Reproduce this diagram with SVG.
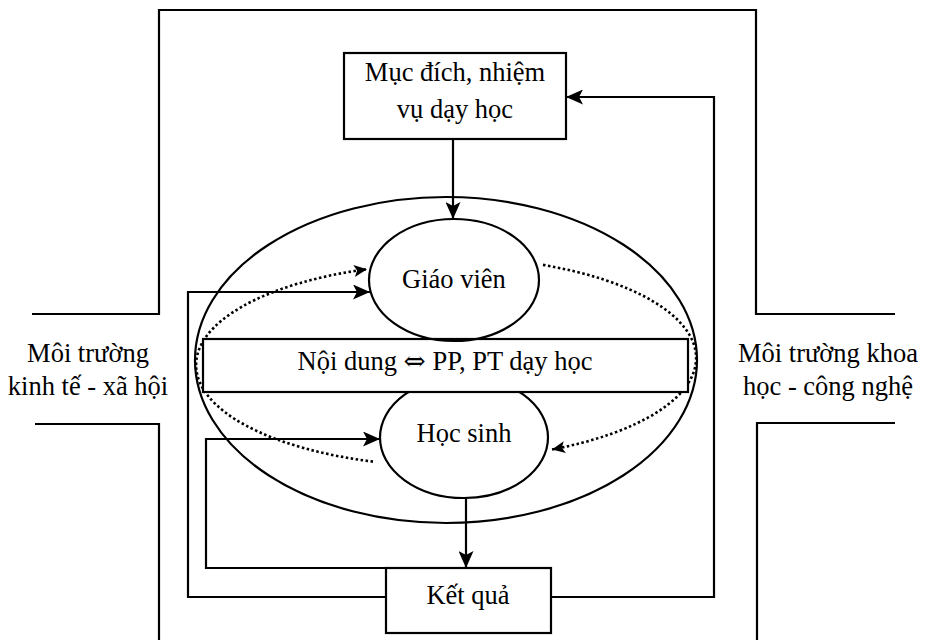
<svg xmlns="http://www.w3.org/2000/svg" width="927" height="640" viewBox="0 0 927 640" font-family="'Liberation Serif', 'DejaVu Serif', serif">
<style>
  .ln{fill:none;stroke:#000;stroke-width:2.2}
  .shape{fill:#fff;stroke:#000;stroke-width:2.2}
  .dot{fill:none;stroke:#000;stroke-width:2.6;stroke-dasharray:2.5 2.5}
  .t{font-family:'Liberation Serif','DejaVu Serif',serif;font-size:26.5px;fill:#000;text-anchor:middle}
  .sym{font-family:'DejaVu Serif','DejaVu Sans',serif}
</style>
<defs>
  <marker id="arr" markerUnits="userSpaceOnUse" markerWidth="18" markerHeight="15" refX="17" refY="7.5" orient="auto">
    <path d="M0,0 L17,7.5 L0,15 L4,7.5 z" fill="#000"/>
  </marker>
  <marker id="darr" markerUnits="userSpaceOnUse" markerWidth="14" markerHeight="12" refX="13" refY="6" orient="auto">
    <path d="M0,0 L13,6 L0,12 L3,6 z" fill="#000"/>
  </marker>
</defs>

<g id="frame">
  <path class="ln" d="M32,314 H159 V10 H756 V314 H895"/>
  <path class="ln" d="M35,424 H159 V640"/>
  <path class="ln" d="M895,423 H757 V640"/>
</g>

<g id="env-left">
  <text class="t" x="88" y="362">Môi trường</text>
  <text class="t" x="88" y="395">kinh tế - xã hội</text>
</g>
<g id="env-right">
  <text class="t" x="828" y="362">Môi trường khoa</text>
  <text class="t" x="828" y="395">học - công nghệ</text>
</g>

<g id="system">
  <ellipse class="ln" cx="446" cy="360" rx="251" ry="163"/>
</g>

<g id="connectors">
  <path class="dot" d="M373,461.6 A250,101 0 0 1 367,269.2" marker-end="url(#darr)"/>
  <path class="dot" d="M543,264.9 A250,101 0 0 1 552,449.5" marker-end="url(#darr)"/>
  <path class="ln" d="M453,139 V219" marker-end="url(#arr)"/>
  <path class="ln" d="M551,597 H714 V97 H566" marker-end="url(#arr)"/>
  <path class="ln" d="M386,597 H188 V292 H370" marker-end="url(#arr)"/>
  <path class="ln" d="M386,568 H206 V439 H380" marker-end="url(#arr)"/>
  <path class="ln" d="M466,498 V568" marker-end="url(#arr)"/>
</g>

<g id="hoc-sinh">
  <ellipse class="ln" cx="464" cy="437.5" rx="84" ry="60.5"/>
  <text class="t" x="464" y="442">Học sinh</text>
</g>

<g id="noi-dung">
  <rect class="shape" x="203" y="339" width="485" height="53"/>
  <text class="t" x="445" y="370">Nội dung <tspan class="sym">⇔</tspan> PP, PT dạy học</text>
</g>

<g id="giao-vien">
  <ellipse class="ln" cx="454" cy="280" rx="85" ry="61"/>
  <text class="t" x="454" y="288">Giáo viên</text>
</g>

<g id="muc-dich">
  <rect class="shape" x="344" y="53" width="222" height="86"/>
  <text class="t" x="455" y="81">Mục đích, nhiệm</text>
  <text class="t" x="455" y="118">vụ dạy học</text>
</g>

<g id="ket-qua">
  <rect class="shape" x="386" y="568" width="165" height="65"/>
  <text class="t" x="468" y="604">Kết quả</text>
</g>
</svg>
